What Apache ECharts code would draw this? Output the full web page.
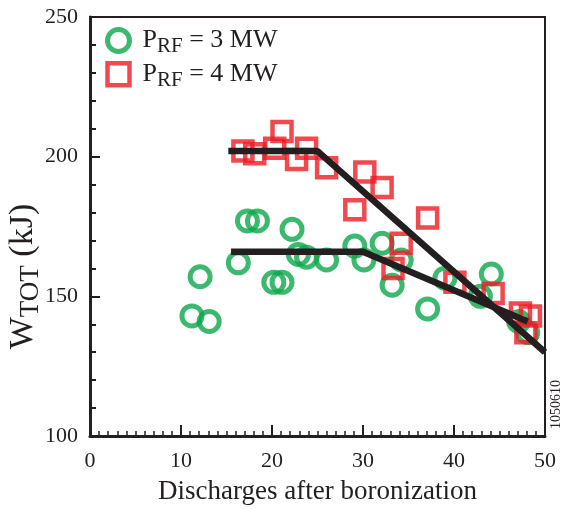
<!DOCTYPE html>
<html>
<head>
<meta charset="utf-8">
<script src="https://cdn.jsdelivr.net/npm/echarts@6/dist/echarts.min.js"></script>
<style>
  html, body { margin: 0; padding: 0; background: #fff; }
  #chart { width: 565px; height: 510px; }
</style>
</head>
<body>
<div id="chart"></div>
<script>
// discharges after boronization vs stored energy (kJ)
const rf3x = [11.2, 12.1, 13.1, 16.3, 17.3, 18.4, 20.2, 21.1, 22.2, 22.9, 23.8, 26.0, 29.1, 30.1, 32.1, 34.2, 33.2, 37.1, 39.0, 44.1, 42.9, 47.1, 48.1];
const rf3y = [143, 157, 141, 162, 177, 177, 155, 155, 174, 165, 164, 163, 168, 163, 169, 163, 154, 145.5, 156.5, 158, 150, 141, 137];

const rf4x = [16.8, 18.1, 20.3, 21.1, 22.7, 23.8, 26.0, 29.1, 30.2, 32.1, 33.3, 34.2, 37.1, 40.1, 44.3, 47.3, 48.4, 47.9];
const rf4y = [202, 201, 203, 209, 199, 203, 196, 181, 194.5, 189, 160, 169, 178, 155, 151, 144, 143, 137];

// piecewise fits
const fit4x = [15.2, 25, 50];
const fit4y = [202, 202, 130];
const fit3x = [15.5, 30, 48.1];
const fit3y = [166, 166, 141];

const xTicks = [0, 10, 20, 30, 40, 50];
const yTicks = [100, 150, 200, 250];

const green = "#0ba84a";
const red = "#ec1c24";
const ink = "#231f20";
const serif = "Liberation Serif";

const pairs = (xs, ys) => xs.map((x, i) => [x, ys[i]]);

const chart = echarts.init(document.getElementById("chart"));

chart.setOption({
  animation: false,
  backgroundColor: "#fff",
  grid: {
    left: 90, right: 20, top: 17, bottom: 74,
    outerBoundsMode: "none",
    containLabel: false,
    show: true, borderColor: ink, borderWidth: 2,
  },
  legend: {
    left: 100, top: 22,
    orient: "vertical",
    itemWidth: 22, itemHeight: 22, itemGap: 4,
    data: [
      { name: "P_RF = 3 MW", itemStyle: { borderWidth: 5 } },
      { name: "P_RF = 4 MW", itemStyle: { borderWidth: 4.5 } },
    ],
    formatter: (name) => name.replace(/^P_RF(.*)$/, "{p0|P}{s|RF}{p|$1}"),
    textStyle: {
      fontFamily: serif,
      color: ink,
      rich: {
        p0: { fontSize: 26, fontFamily: serif, color: ink, padding: [0, 0, 0, 8] },
        p: { fontSize: 26, fontFamily: serif, color: ink },
        s: { fontSize: 21, fontFamily: serif, color: ink, padding: [12, 0, 0, 0] },
      },
    },
  },
  xAxis: {
    type: "value",
    min: xTicks[0], max: xTicks[xTicks.length - 1], interval: 10,
    name: "Discharges after boronization",
    nameLocation: "middle", nameGap: 42,
    nameTextStyle: { fontFamily: serif, fontSize: 27, color: ink },
    axisLine: { lineStyle: { color: ink, width: 3 } },
    axisTick: { inside: true, length: 11, lineStyle: { color: ink, width: 2 } },
    minorTick: { show: true, splitNumber: 10, length: 5, lineStyle: { color: ink, width: 1.5 } },
    axisLabel: { fontFamily: serif, fontSize: 22, color: ink, margin: 14 },
    splitLine: { show: false },
  },
  yAxis: {
    type: "value",
    min: yTicks[0], max: yTicks[yTicks.length - 1], interval: 50,
    name: "W{sub|TOT} (kJ)",
    nameLocation: "middle", nameGap: 46, nameRotate: 90,
    nameMoveOverlap: false,
    nameTextStyle: {
      fontFamily: serif, fontSize: 34, color: ink,
      padding: [0, 100, 0, 0],
      rich: { sub: { fontSize: 27, fontFamily: serif, color: ink, padding: [14, 0, 0, 0] } },
    },
    axisLine: { lineStyle: { color: ink, width: 3 } },
    axisTick: { inside: true, length: 10, lineStyle: { color: ink, width: 2 } },
    minorTick: { show: true, splitNumber: 5, length: 6, lineStyle: { color: ink, width: 2 } },
    axisLabel: { fontFamily: serif, fontSize: 22, color: ink, margin: 12 },
    splitLine: { show: false },
  },
  series: [
    {
      name: "P_RF = 3 MW",
      type: "scatter",
      symbol: "circle",
      symbolSize: 20,
      data: pairs(rf3x, rf3y),
      itemStyle: { color: "rgba(0,0,0,0)", borderColor: green, borderWidth: 5 },
      emphasis: { disabled: true },
      z: 2,
    },
    {
      name: "P_RF = 4 MW",
      type: "scatter",
      symbol: "rect",
      symbolSize: 19,
      data: pairs(rf4x, rf4y),
      itemStyle: { color: "rgba(0,0,0,0)", borderColor: red, borderWidth: 4.5 },
      emphasis: { disabled: true },
      z: 3,
    },
    {
      type: "line",
      data: pairs(fit4x, fit4y),
      symbol: "none",
      lineStyle: { color: ink, width: 6.5 },
      emphasis: { disabled: true },
      z: 5,
    },
    {
      type: "line",
      data: pairs(fit3x, fit3y),
      symbol: "none",
      lineStyle: { color: ink, width: 6.5 },
      emphasis: { disabled: true },
      z: 5,
    },
  ],
  graphic: [
    {
      type: "text",
      left: 549, top: 380,
      rotation: Math.PI / 2,
      style: { text: "1050610", font: "14px " + serif, fill: ink },
    },
  ],
});
</script>
</body>
</html>
